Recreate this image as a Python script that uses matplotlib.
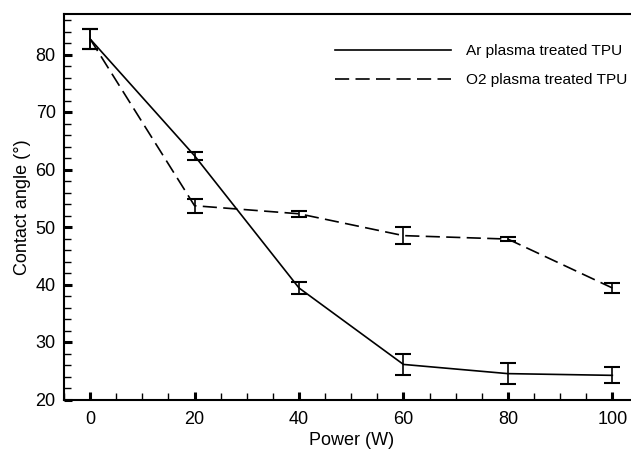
import matplotlib
matplotlib.use("Agg")
import matplotlib.pyplot as plt
from matplotlib.ticker import MultipleLocator

plt.rcParams['font.family'] = ['Liberation Sans', 'DejaVu Sans']

power = [0, 20, 40, 60, 80, 100]
ar_values = [82.7, 62.4, 39.4, 26.1, 24.5, 24.2]
ar_errors = [1.8, 0.7, 1.0, 1.8, 1.8, 1.4]
o2_values = [82.7, 53.7, 52.3, 48.5, 47.9, 39.4]
o2_errors = [1.8, 1.2, 0.5, 1.5, 0.3, 0.8]
ar_label = "Ar plasma treated TPU"
o2_label = "O2 plasma treated TPU"

W, H = 631, 450
fig = plt.figure(figsize=(W / 100, H / 100), dpi=100)
left, bottom, top = 64, 399.5, 14
x_lo, x_hi = -5, 105
px_per_unit = (612.3 - 90) / 100.0
right_px = 90 + x_hi * px_per_unit
ax = fig.add_axes([left / W, 1 - bottom / H, (right_px - left) / W, (bottom - top) / H])

lw = 1.2
ax.errorbar(power, ar_values, yerr=ar_errors, color='black', lw=lw, ls='-',
            capsize=5.5, capthick=1.5, elinewidth=1.2, label=ar_label)
ax.errorbar(power, o2_values, yerr=o2_errors, color='black', lw=lw, ls=(0, (8.5, 3.8)),
            capsize=5.5, capthick=1.5, elinewidth=1.2, label=o2_label)

ax.set_xlim(x_lo, x_hi)
ax.set_ylim(20, 20 + (bottom - top) / 5.75)

ax.xaxis.set_major_locator(MultipleLocator(20))
ax.xaxis.set_minor_locator(MultipleLocator(5))
ax.yaxis.set_major_locator(MultipleLocator(10))
ax.yaxis.set_minor_locator(MultipleLocator(2))
ax.tick_params(which='major', direction='in', length=6, width=2.2, labelsize=13,
               top=False, right=False)
ax.tick_params(axis='x', which='major', pad=8)
ax.tick_params(axis='y', which='major', pad=6)
ax.tick_params(which='minor', direction='in', length=5, width=1.0, top=False, right=False)

for s in ['left', 'bottom', 'top']:
    ax.spines[s].set_linewidth(1.5)
ax.spines['right'].set_visible(False)

ax.set_xlabel("Power (W)", fontsize=13, labelpad=3)
ax.set_ylabel("Contact angle (°)", fontsize=13, labelpad=3)

handles, labels = ax.get_legend_handles_labels()
handles = [h[0] for h in handles]
leg = ax.legend(handles, labels, loc='upper left', bbox_to_anchor=(335 / W, 1 - 44 / H),
                bbox_transform=fig.transFigure, frameon=False, fontsize=11.1,
                handlelength=7.5, handletextpad=1.0, labelspacing=0.97,
                borderpad=0, borderaxespad=0)

fig.savefig("out.png", dpi=100)
